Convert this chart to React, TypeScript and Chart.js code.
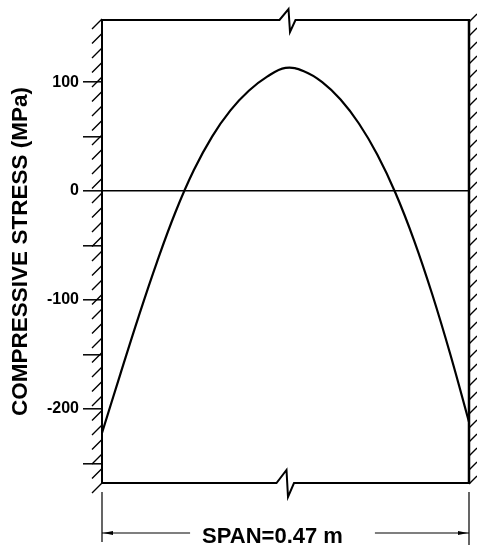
import { useEffect, useRef } from "react";
import { Chart, registerables } from "chart.js";

Chart.register(...registerables);

// Position along the span (m) and measured compressive stress (MPa)
const spanPositions = [
  0, 0.0235, 0.047, 0.0705, 0.094, 0.1175, 0.141, 0.1645, 0.188, 0.2115, 0.235,
  0.2585, 0.282, 0.3055, 0.329, 0.3525, 0.376, 0.3995, 0.423, 0.4465, 0.47,
];
const stressValues = [
  -222, -168, -115, -65, -19.5, 19, 50, 74, 92, 105, 113, 110, 100, 84, 62, 33.5,
  -2, -45, -95, -151, -212,
];

const stressTicks = [-250, -200, -150, -100, -50, 0, 50, 100];
const labelledTicks = [-200, -100, 0, 100];
const stressMin = -268;
const stressMax = 157;
const spanLength = 0.47;

const axisTitle = "COMPRESSIVE STRESS (MPa)";
const spanLabel = "SPAN=0.47 m";
const fontFamily = "'Liberation Sans', Arial, Helvetica, sans-serif";

// Fixed-end frame: hatched supports, broken top/bottom edges, span dimension
const frameDecor = {
  id: "frameDecor",
  afterDatasetsDraw(chart: any) {
    const { ctx, chartArea } = chart;
    const { left, right, top, bottom } = chartArea;
    const cx = chart.scales.x.getPixelForValue(spanLength / 2);
    ctx.save();
    ctx.strokeStyle = "#000";
    ctx.fillStyle = "#000";
    ctx.lineJoin = "miter";

    // top edge with break symbol
    ctx.lineWidth = 2;
    ctx.beginPath();
    ctx.moveTo(left - 1, top);
    ctx.lineTo(cx - 6, top);
    ctx.lineTo(cx + 3, top - 11);
    ctx.lineTo(cx + 4.5, top + 12);
    ctx.lineTo(cx + 10, top);
    ctx.lineTo(right, top);
    ctx.stroke();

    // bottom edge with break symbol
    ctx.beginPath();
    ctx.moveTo(left - 1, bottom);
    ctx.lineTo(cx - 9, bottom);
    ctx.lineTo(cx + 1, bottom - 13);
    ctx.lineTo(cx + 2.5, bottom + 14);
    ctx.lineTo(cx + 8.5, bottom);
    ctx.lineTo(right, bottom);
    ctx.stroke();

    // supports
    ctx.lineWidth = 2;
    ctx.beginPath();
    ctx.moveTo(left, top - 1);
    ctx.lineTo(left, bottom + 1);
    ctx.stroke();
    ctx.lineWidth = 2.5;
    ctx.beginPath();
    ctx.moveTo(right, top - 1);
    ctx.lineTo(right, bottom + 1);
    ctx.stroke();

    // hatching
    ctx.lineWidth = 1.4;
    ctx.beginPath();
    for (let y = top - 1; y <= bottom + 1; y += 14.5) {
      ctx.moveTo(left - 10, y + 10);
      ctx.lineTo(left, y);
    }
    for (let y = top - 6; y <= bottom; y += 14) {
      ctx.moveTo(right, y + 8);
      ctx.lineTo(right + 8, y);
    }
    ctx.stroke();

    // span dimension
    ctx.lineWidth = 1.2;
    ctx.beginPath();
    ctx.moveTo(left, bottom + 9);
    ctx.lineTo(left, bottom + 59);
    ctx.moveTo(right, bottom + 9);
    ctx.lineTo(right, bottom + 62);
    ctx.stroke();

    ctx.font = `bold 22px ${fontFamily}`;
    ctx.textBaseline = "alphabetic";
    ctx.textAlign = "left";
    const w = ctx.measureText(spanLabel).width;
    const textStart = cx - 13 - w / 2;
    const dimY = bottom + 50;
    ctx.fillText(spanLabel, textStart, bottom + 60);

    ctx.beginPath();
    ctx.moveTo(left, dimY);
    ctx.lineTo(textStart - 12, dimY);
    ctx.moveTo(textStart + w + 32, dimY);
    ctx.lineTo(right, dimY);
    ctx.stroke();

    ctx.beginPath();
    ctx.moveTo(left + 1, dimY);
    ctx.lineTo(left + 11, dimY - 2);
    ctx.lineTo(left + 11, dimY + 2);
    ctx.closePath();
    ctx.moveTo(right - 1, dimY);
    ctx.lineTo(right - 11, dimY - 2);
    ctx.lineTo(right - 11, dimY + 2);
    ctx.closePath();
    ctx.fill();

    ctx.restore();
  },
};

export default function App() {
  const canvasRef = useRef<HTMLCanvasElement | null>(null);

  useEffect(() => {
    if (!canvasRef.current) return;
    Chart.defaults.font.family = fontFamily;
    Chart.defaults.color = "#000";

    const chart = new Chart(canvasRef.current, {
      type: "line",
      data: {
        datasets: [
          {
            data: spanPositions.map((x, i) => ({ x, y: stressValues[i] })),
            borderColor: "#000",
            borderWidth: 2.2,
            pointRadius: 0,
            tension: 0.4,
            fill: false,
          },
        ],
      },
      options: {
        responsive: false,
        animation: false,
        layout: { padding: { top: 20, right: 8, bottom: 63, left: 0 } },
        plugins: {
          legend: { display: false },
          tooltip: { enabled: false },
        },
        scales: {
          x: {
            type: "linear",
            min: 0,
            max: spanLength,
            display: false,
          },
          y: {
            type: "linear",
            min: stressMin,
            max: stressMax,
            afterBuildTicks: (scale: any) => {
              scale.ticks = stressTicks.map((value) => ({ value }));
            },
            afterFit: (scale: any) => {
              scale.width = 102;
            },
            border: { display: false },
            grid: {
              drawOnChartArea: true,
              color: (c: any) =>
                c.tick && c.tick.value === 0 ? "#000" : "rgba(0,0,0,0)",
              lineWidth: 1.6,
              tickColor: "#000",
              tickLength: 19,
              tickWidth: 1.5,
            },
            ticks: {
              padding: 4,
              color: "#000",
              font: { size: 16, weight: "bold" },
              callback: (v: any) =>
                labelledTicks.includes(Number(v)) ? String(v) : "",
            },
            title: {
              display: true,
              text: axisTitle,
              color: "#000",
              font: { size: 22.5, weight: "bold" },
              padding: { top: 7, bottom: 0 },
            },
          },
        },
      },
      plugins: [frameDecor],
    });

    return () => chart.destroy();
  }, []);

  return (
    <div style={{ position: "absolute", left: 0, top: 0, width: 477, height: 546 }}>
      <canvas ref={canvasRef} width={477} height={546} />
    </div>
  );
}
